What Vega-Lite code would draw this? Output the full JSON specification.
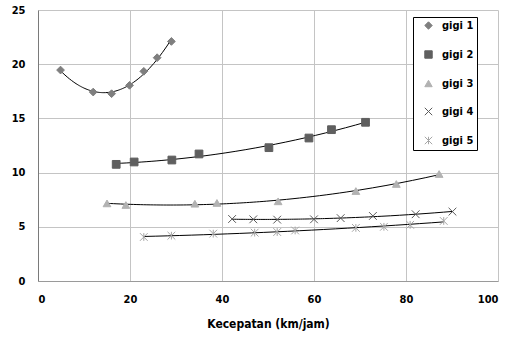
{
  "$schema": "https://vega.github.io/schema/vega-lite/v6.json",
  "autosize": "none",
  "width": 460,
  "height": 271,
  "padding": {"left": 38, "top": 10, "right": 16, "bottom": 63},
  "background": "white",
  "config": {
    "font": "DejaVu Sans Condensed, Liberation Sans, sans-serif",
    "view": {"stroke": null},
    "axis": {
      "labelFont": "DejaVu Sans Condensed, Liberation Sans, sans-serif",
      "labelFontWeight": "bold",
      "labelFontSize": 11,
      "labelColor": "black",
      "ticks": false,
      "gridColor": "#c4c4c4",
      "gridWidth": 1,
      "gridOpacity": 1,
      "domainColor": "#9a9a9a",
      "domainWidth": 1
    },
    "legend": {
      "labelFont": "DejaVu Sans Condensed, Liberation Sans, sans-serif",
      "labelFontWeight": "bold",
      "labelFontSize": 11,
      "labelColor": "black",
      "title": "                      ",
      "titleOrient": "bottom",
      "titleFontSize": 12,
      "titlePadding": 8,
      "orient": "none",
      "legendX": 375,
      "legendY": 7,
      "padding": 3,
      "symbolOffset": 7,
      "rowPadding": 16,
      "symbolSize": 55,
      "labelOffset": 8,
      "strokeColor": "black",
      "fillColor": "white",
      "symbolStrokeWidth": 1
    }
  },
  "data": {
    "values": [
      {"kecepatan": 4.9, "nilai": 19.46, "gigi": "gigi 1"},
      {"kecepatan": 12.0, "nilai": 17.43, "gigi": "gigi 1"},
      {"kecepatan": 16.0, "nilai": 17.28, "gigi": "gigi 1"},
      {"kecepatan": 19.9, "nilai": 18.05, "gigi": "gigi 1"},
      {"kecepatan": 23.0, "nilai": 19.34, "gigi": "gigi 1"},
      {"kecepatan": 25.9, "nilai": 20.6, "gigi": "gigi 1"},
      {"kecepatan": 29.0, "nilai": 22.1, "gigi": "gigi 1"},

      {"kecepatan": 17.0, "nilai": 10.76, "gigi": "gigi 2"},
      {"kecepatan": 20.9, "nilai": 10.98, "gigi": "gigi 2"},
      {"kecepatan": 29.1, "nilai": 11.16, "gigi": "gigi 2"},
      {"kecepatan": 35.0, "nilai": 11.72, "gigi": "gigi 2"},
      {"kecepatan": 50.2, "nilai": 12.3, "gigi": "gigi 2"},
      {"kecepatan": 58.9, "nilai": 13.19, "gigi": "gigi 2"},
      {"kecepatan": 63.8, "nilai": 13.96, "gigi": "gigi 2"},
      {"kecepatan": 71.2, "nilai": 14.64, "gigi": "gigi 2"},

      {"kecepatan": 15.0, "nilai": 7.16, "gigi": "gigi 3"},
      {"kecepatan": 19.1, "nilai": 7.01, "gigi": "gigi 3"},
      {"kecepatan": 34.1, "nilai": 7.13, "gigi": "gigi 3"},
      {"kecepatan": 38.9, "nilai": 7.2, "gigi": "gigi 3"},
      {"kecepatan": 52.2, "nilai": 7.35, "gigi": "gigi 3"},
      {"kecepatan": 69.1, "nilai": 8.3, "gigi": "gigi 3"},
      {"kecepatan": 77.9, "nilai": 8.95, "gigi": "gigi 3"},
      {"kecepatan": 87.2, "nilai": 9.87, "gigi": "gigi 3"},

      {"kecepatan": 42.2, "nilai": 5.72, "gigi": "gigi 4"},
      {"kecepatan": 46.8, "nilai": 5.69, "gigi": "gigi 4"},
      {"kecepatan": 52.0, "nilai": 5.66, "gigi": "gigi 4"},
      {"kecepatan": 60.0, "nilai": 5.69, "gigi": "gigi 4"},
      {"kecepatan": 65.8, "nilai": 5.8, "gigi": "gigi 4"},
      {"kecepatan": 72.8, "nilai": 6.0, "gigi": "gigi 4"},
      {"kecepatan": 82.1, "nilai": 6.16, "gigi": "gigi 4"},
      {"kecepatan": 90.1, "nilai": 6.4, "gigi": "gigi 4"},

      {"kecepatan": 23.0, "nilai": 4.06, "gigi": "gigi 5"},
      {"kecepatan": 29.0, "nilai": 4.18, "gigi": "gigi 5"},
      {"kecepatan": 38.1, "nilai": 4.37, "gigi": "gigi 5"},
      {"kecepatan": 47.1, "nilai": 4.46, "gigi": "gigi 5"},
      {"kecepatan": 52.0, "nilai": 4.52, "gigi": "gigi 5"},
      {"kecepatan": 55.9, "nilai": 4.66, "gigi": "gigi 5"},
      {"kecepatan": 69.1, "nilai": 4.9, "gigi": "gigi 5"},
      {"kecepatan": 75.2, "nilai": 5.0, "gigi": "gigi 5"},
      {"kecepatan": 80.9, "nilai": 5.18, "gigi": "gigi 5"},
      {"kecepatan": 88.2, "nilai": 5.54, "gigi": "gigi 5"}
    ]
  },
  "encoding": {
    "x": {
      "field": "kecepatan",
      "type": "quantitative",
      "scale": {"domain": [0, 100], "nice": false},
      "axis": {
        "values": [0, 20, 40, 60, 80, 100],
        "title": "Kecepatan (km/jam)",
        "titleFont": "DejaVu Sans Condensed, Liberation Sans, sans-serif",
        "titleFontWeight": "bold",
        "titleFontSize": 12,
        "titleColor": "black",
        "labelPadding": 12,
        "titlePadding": 14
      }
    },
    "y": {
      "field": "nilai",
      "type": "quantitative",
      "scale": {"domain": [0, 25], "nice": false},
      "axis": {
        "values": [0, 5, 10, 15, 20, 25],
        "title": null,
        "labelPadding": 13,
        "domainColor": "#7a7a7a"
      }
    }
  },
  "layer": [
    {
      "transform": [
        {"regression": "nilai", "on": "kecepatan", "groupby": ["gigi"], "method": "poly", "order": 2}
      ],
      "mark": {"type": "line", "color": "black", "strokeWidth": 1},
      "encoding": {"detail": {"field": "gigi"}}
    },
    {
      "mark": {"type": "point", "strokeWidth": 1, "opacity": 1},
      "encoding": {
        "shape": {
          "field": "gigi",
          "type": "nominal",
          "scale": {
            "domain": ["gigi 1", "gigi 2", "gigi 3", "gigi 4", "gigi 5"],
            "range": [
              "diamond",
              "square",
              "triangle-up",
              "M-1,-1L1,1M-1,1L1,-1",
              "M-1,-1L1,1M-1,1L1,-1M0,-1L0,1"
            ]
          }
        },
        "fill": {
          "field": "gigi",
          "type": "nominal",
          "scale": {
            "domain": ["gigi 1", "gigi 2", "gigi 3", "gigi 4", "gigi 5"],
            "range": ["#7f7f7f", "#5f5f5f", "#b2b2b2", "transparent", "transparent"]
          }
        },
        "stroke": {
          "field": "gigi",
          "type": "nominal",
          "scale": {
            "domain": ["gigi 1", "gigi 2", "gigi 3", "gigi 4", "gigi 5"],
            "range": ["#7f7f7f", "#5f5f5f", "#b2b2b2", "#5a5a5a", "#a6a6a6"]
          }
        },
        "size": {"value": 60}
      }
    }
  ]
}
